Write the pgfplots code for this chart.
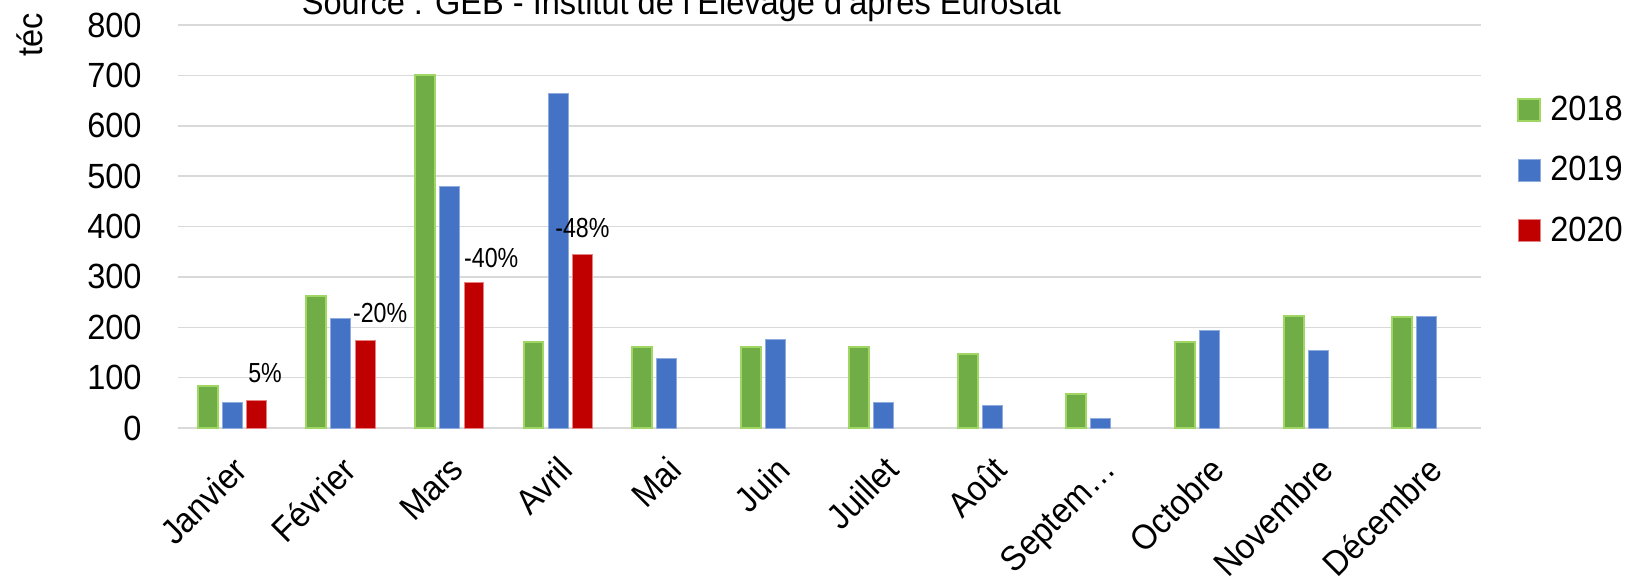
\documentclass[border=0pt]{standalone}
\usepackage{pgfplots}
\pgfplotsset{compat=1.18}
\usepackage{fontspec}
\setmainfont{Liberation Sans}[FakeStretch=0.93]
\newfontfamily\condf{Liberation Sans}[FakeStretch=0.84]
\definecolor{g18}{RGB}{112,173,71}
\definecolor{g18b}{RGB}{160,215,100}
\definecolor{b19}{RGB}{68,114,196}
\definecolor{b19b}{RGB}{143,170,220}
\definecolor{r20}{RGB}{192,0,0}
\definecolor{r20b}{RGB}{230,130,130}
\definecolor{gridc}{RGB}{217,217,217}
\newcommand{\bigf}{\fontsize{17.5}{20}\selectfont}
\newcommand{\smallf}{\condf\fontsize{13.8}{16}\selectfont}
\begin{document}
\begin{tikzpicture}
\begin{axis}[
  at={(89pt,78.5pt)}, anchor=south west,
  scale only axis, width=651.5pt, height=201.5pt,
  xmin=-0.5, xmax=11.5, ymin=0, ymax=800,
  ytick={0,100,...,800},
  xtick={0,...,11},
  xticklabels={Janvier,Février,Mars,Avril,Mai,Juin,Juillet,Août,Septem…,Octobre,Novembre,Décembre},
  /pgf/number format/assume math mode=true,
  ticklabel style={font=\bigf},
  yticklabel style={anchor=east, inner sep=0pt, xshift=-18pt},
  xticklabel style={yshift=-13pt, xshift=-0.5pt, rotate=45, anchor=north east, inner sep=0pt},
  axis line style={draw=none},
  tick style={draw=none},
  ymajorgrids, grid style={gridc, line width=0.75pt},
  legend image code/.code={\draw[#1] (0pt,-5.5pt) rectangle (11pt,5.5pt);},
  legend style={draw=none, fill=none, at={(1.0276,0.640)}, anchor=west,
    inner sep=0pt, font=\bigf, row sep=16.5pt,
    nodes={inner sep=0pt},
    /tikz/every odd column/.append style={column sep=4.5pt}},
  legend cell align=left,
]
\addplot[ybar, bar width=0.184, bar shift=-0.226, fill=g18, draw=g18b, line width=1pt]
  coordinates {(0,84) (1,263) (2,701) (3,170) (4,161) (5,160) (6,161) (7,147) (8,68) (9,171) (10,223) (11,220)};
\addplot[ybar, bar width=0.184, bar shift=0, fill=b19, draw=b19b, line width=0.5pt]
  coordinates {(0,51) (1,217) (2,479) (3,665) (4,138) (5,175) (6,50) (7,45) (8,18) (9,193) (10,154) (11,221)};
\addplot[ybar, bar width=0.184, bar shift=0.226, fill=r20, draw=r20b, line width=0.5pt]
  coordinates {(0,54) (1,174) (2,288) (3,345)};
\legend{2018,2019,2020}
\node[font=\smallf] at (axis cs:0.302,109) {5\%};
\node[font=\smallf] at (axis cs:1.362,228) {-20\%};
\node[font=\smallf] at (axis cs:2.385,338) {-40\%};
\node[font=\smallf] at (axis cs:3.224,398) {-48\%};
\end{axis}
\node[font=\bigf, rotate=90] at (15pt,275pt) {téc};
\node[font=\bigf, anchor=base] at (340.75pt,285pt) {Source : GEB - Institut de l'Elevage d'après Eurostat};
\pgfresetboundingbox
\path[use as bounding box] (0,0) rectangle (815pt,292.5pt);
\end{tikzpicture}
\end{document}
